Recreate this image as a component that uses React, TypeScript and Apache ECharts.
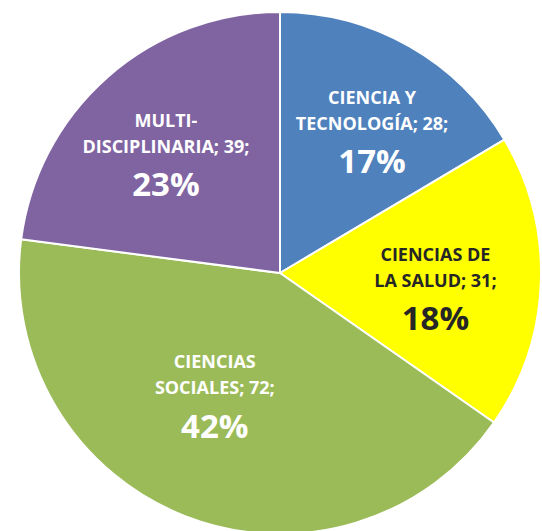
import React, { useEffect, useRef } from "react";
import * as echarts from "echarts";

const categories = [
  "CIENCIA Y\nTECNOLOGÍA",
  "CIENCIAS DE\nLA SALUD",
  "CIENCIAS\nSOCIALES",
  "MULTI-\nDISCIPLINARIA",
];
const values = [28, 31, 72, 39];

const colors = ["#4F81BD", "#FFFF00", "#9BBB59", "#8064A2"];
const textColors = ["#FFFFFF", "#262626", "#FFFFFF", "#FFFFFF"];
const labelOffsets = [
  [26, -22],
  [22, 14],
  [-17, 2],
  [-26, -15],
];

export default function App() {
  const ref = useRef<HTMLDivElement>(null);
  useEffect(() => {
    if (!ref.current) return;
    const chart = echarts.init(ref.current, null, { renderer: "svg" });
    chart.setOption({
      animation: false,
      backgroundColor: "#FFFFFF",
      series: [
        {
          type: "pie",
          center: [280, 273],
          radius: [0, 261],
          startAngle: 90,
          clockwise: true,
          percentPrecision: 0,
          avoidLabelOverlap: false,
          itemStyle: { borderColor: "#FFFFFF", borderWidth: 2 },
          label: {
            position: "inside",
            fontFamily: "Open Sans",
            formatter: (p: any) =>
              `{n|${p.name}; ${p.value};}\n{p|${p.percent}%}`,
          },
          labelLine: { show: false },
          data: categories.map((c, i) => ({
            name: c,
            value: values[i],
            itemStyle: { color: colors[i] },
            label: {
              offset: labelOffsets[i],
              rich: {
                n: {
                  fontFamily: "Open Sans",
                  fontWeight: 700,
                  fontSize: 18,
                  lineHeight: 26,
                  color: textColors[i],
                  align: "center",
                },
                p: {
                  fontFamily: "Open Sans",
                  fontWeight: 700,
                  fontSize: 33,
                  lineHeight: 50,
                  color: textColors[i],
                  align: "center",
                },
              },
            },
          })),
        },
      ],
    });
    return () => chart.dispose();
  }, []);
  return (
    <div
      ref={ref}
      style={{ position: "fixed", left: 0, top: 0, width: 542, height: 531 }}
    />
  );
}
